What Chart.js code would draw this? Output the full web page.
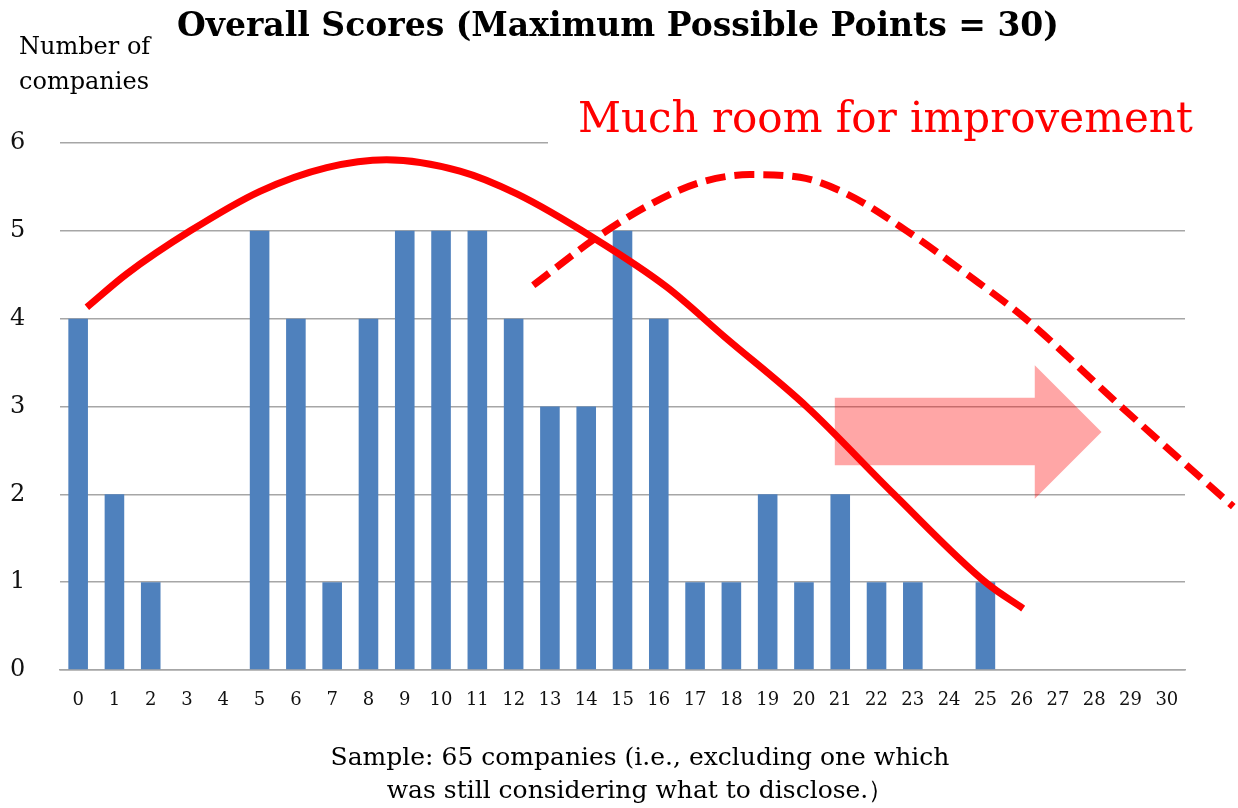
<!DOCTYPE html>
<html>
<head>
<meta charset="utf-8">
<script src="https://cdn.jsdelivr.net/npm/chart.js@4"></script>
<style>
  html, body { margin: 0; padding: 0; background: #fff; }
  #wrap { width: 1238px; height: 808px; }
</style>
</head>
<body>
<div id="wrap"><canvas id="chartScores"></canvas></div>
<script>
const scoreLabels = ['0','1','2','3','4','5','6','7','8','9','10','11','12','13','14','15','16','17','18','19','20','21','22','23','24','25','26','27','28','29','30'];
const companyCounts = [4,2,1,0,0,5,4,1,4,5,5,5,4,3,3,5,4,1,1,2,1,2,1,1,0,1,0,0,0,0,0];
const yTicks = [0,1,2,3,4,5,6];

// hand-drawn trend curves, in chart units (score, companies)
const currentCurveX = [0.24, 1.34, 3.09, 5.01, 6.85, 8.50, 10.52, 12.09, 14.24, 16.22, 17.82, 20.07, 22.46, 25.03, 26.04];
const currentCurveY = [4.13, 4.51, 5.00, 5.45, 5.72, 5.81, 5.68, 5.42, 4.91, 4.36, 3.79, 3.00, 2.01, 0.99, 0.70];
const improvedCurveX = [12.54, 14.24, 15.76, 17.13, 18.51, 19.89, 21.18, 22.83, 24.48, 26.13, 28.71, 31.83];
const improvedCurveY = [4.38, 4.91, 5.30, 5.55, 5.64, 5.61, 5.42, 5.00, 4.51, 3.99, 3.01, 1.86];

// arrow shape in chart units
const arrowX = [20.85, 26.36, 28.20];
const arrowY = [1.95, 2.33, 2.71, 3.10, 3.47];

const serif = '"DejaVu Serif", "Liberation Serif", serif';

function toPoints(xs, ys) {
  return xs.map((x, i) => ({ x: x, y: ys[i] }));
}

const decorations = {
  id: 'decorations',
  beforeDatasetsDraw(chart) {
    const c = chart.ctx;
    const sx = chart.scales.xLine, sy = chart.scales.y;
    c.save();
    // white patch behind the red caption
    c.fillStyle = '#fff';
    c.fillRect(548, 90, 690, 60);
    // pink arrow
    const x0 = sx.getPixelForValue(arrowX[0]), x1 = sx.getPixelForValue(arrowX[1]), x2 = sx.getPixelForValue(arrowX[2]);
    c.fillStyle = 'rgba(255, 0, 0, 0.35)';
    c.beginPath();
    c.moveTo(x0, sy.getPixelForValue(arrowY[3]));
    c.lineTo(x1, sy.getPixelForValue(arrowY[3]));
    c.lineTo(x1, sy.getPixelForValue(arrowY[4]));
    c.lineTo(x2, sy.getPixelForValue(arrowY[2]));
    c.lineTo(x1, sy.getPixelForValue(arrowY[0]));
    c.lineTo(x1, sy.getPixelForValue(arrowY[1]));
    c.lineTo(x0, sy.getPixelForValue(arrowY[1]));
    c.closePath();
    c.fill();
    c.restore();
  },
  afterDraw(chart) {
    const c = chart.ctx;
    c.save();
    c.fillStyle = '#000';
    c.textAlign = 'center';
    c.textBaseline = 'alphabetic';
    c.font = 'bold 33px ' + serif;
    c.fillText('Overall Scores (Maximum Possible Points = 30)', 618, 36);

    c.textAlign = 'left';
    c.font = '24px ' + serif;
    c.fillText('Number of', 19, 54);
    c.fillText('companies', 19, 89);

    c.fillStyle = '#ff0000';
    c.font = '42px ' + serif;
    c.fillText('Much room for improvement', 578, 132);

    c.fillStyle = '#000';
    c.textAlign = 'center';
    c.font = '25px ' + serif;
    c.fillText('Sample: 65 companies (i.e., excluding one which', 640, 765);
    c.fillText('was still considering what to disclose.\uFF09', 640, 798);
    c.restore();
  }
};

const ctx = document.getElementById('chartScores');

new Chart(ctx, {
  type: 'bar',
  data: {
    labels: scoreLabels,
    datasets: [
      {
        label: 'Number of companies',
        data: companyCounts,
        xAxisID: 'x',
        backgroundColor: '#4f81bd',
        grouped: false,
        barPercentage: 0.54,
        categoryPercentage: 1.0,
        order: 3
      },
      {
        type: 'line',
        label: 'Current',
        xAxisID: 'xLine',
        data: toPoints(currentCurveX, currentCurveY),
        borderColor: '#ff0000',
        borderWidth: 7,
        pointRadius: 0,
        cubicInterpolationMode: 'monotone',
        fill: false,
        clip: false,
        order: 1
      },
      {
        type: 'line',
        label: 'Improved',
        xAxisID: 'xLine',
        data: toPoints(improvedCurveX, improvedCurveY),
        borderColor: '#ff0000',
        borderWidth: 7,
        borderDash: [20, 9],
        pointRadius: 0,
        cubicInterpolationMode: 'monotone',
        fill: false,
        clip: false,
        order: 2
      }
    ]
  },
  options: {
    responsive: true,
    maintainAspectRatio: false,
    animation: false,
    layout: { padding: { top: 143, left: 10, right: 53, bottom: 78 } },
    plugins: {
      legend: { display: false },
      tooltip: { enabled: false }
    },
    scales: {
      x: {
        offset: true,
        grid: { display: false, drawTicks: false },
        border: { display: true, color: '#a6a6a6', width: 1.5 },
        ticks: { color: '#111', padding: 20, maxRotation: 0, autoSkip: false, font: { family: serif, size: 18 } },
        afterFit(scale) { scale.height = 60; }
      },
      xLine: {
        type: 'linear',
        display: false,
        offset: false,
        grid: { offset: false },
        min: -0.5,
        max: 30.5
      },
      y: {
        min: 0,
        max: 6,
        afterBuildTicks(scale) { scale.ticks = yTicks.map(v => ({ value: v })); },
        grid: { color: '#a6a6a6', lineWidth: 1.5, drawTicks: false },
        border: { display: false },
        ticks: { color: '#111', crossAlign: 'far', padding: 0, font: { family: serif, size: 24 } },
        afterFit(scale) { scale.width = 50; }
      }
    }
  },
  plugins: [decorations]
});
</script>
</body>
</html>
